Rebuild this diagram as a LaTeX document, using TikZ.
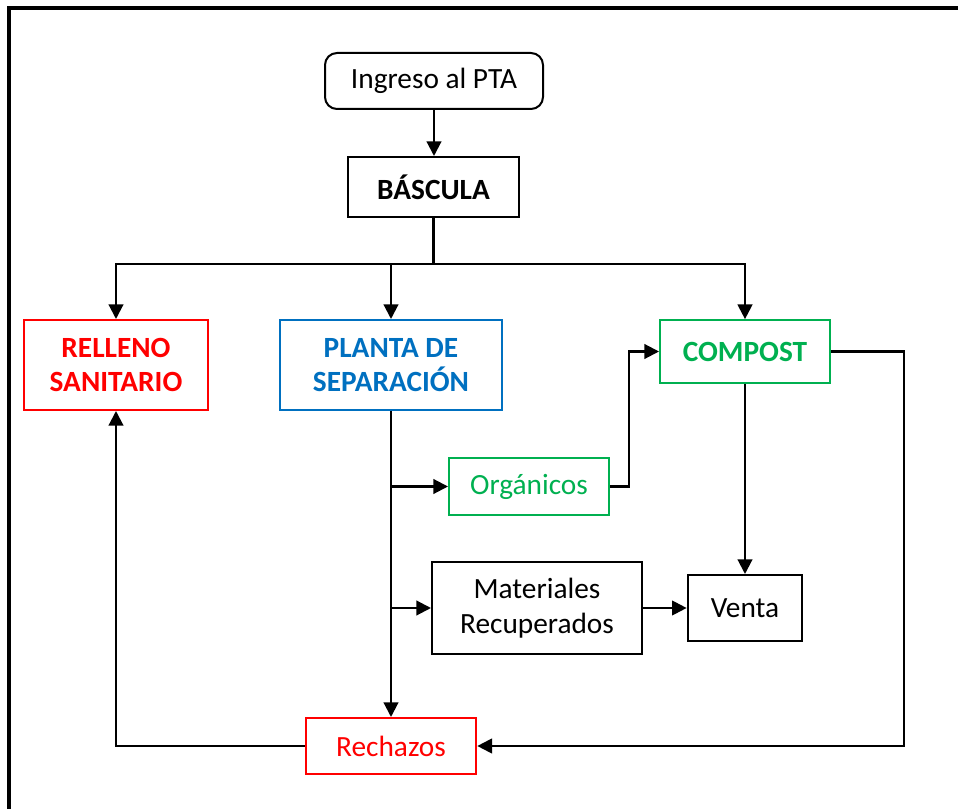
\documentclass[tikz,border=0pt]{standalone}
\usepackage{fontspec}
\setmainfont{Carlito}
\usetikzlibrary{arrows.meta}
\definecolor{rojo}{RGB}{255,0,0}
\definecolor{azul}{RGB}{0,112,192}
\definecolor{verde}{RGB}{0,176,80}
\begin{document}
\begin{tikzpicture}[x=0.75pt,y=-0.75pt,
    box/.style={draw,line width=1.5pt,align=center,inner sep=0pt,
      font=\fontsize{22}{26}\selectfont},
    arrow/.style={line width=1.6pt,-{Triangle[length=11pt,width=11pt]}}]
      \useasboundingbox (0,0) rectangle (958,809);
      \begin{scope}
        \clip (0,0) rectangle (958,809);
        \draw[line width=3pt] (9,900) -- (9,8.5) -- (1000,8.5);
      \end{scope}
      \node[box,rounded corners=9pt,minimum width=163.5pt,minimum height=42pt]
        (ingreso) at (434,81) {Ingreso al PTA};
      \node[box,minimum width=128pt,minimum height=45pt]
        (bascula) at (433.5,187) {\textbf{BÁSCULA}};
      \node[box,draw=rojo,text=rojo,minimum width=138pt,minimum height=67.5pt]
        (relleno) at (116,365) {\textbf{RELLENO}\\\textbf{SANITARIO}};
      \node[box,draw=azul,text=azul,minimum width=167pt,minimum height=67.5pt]
        (planta) at (391,365) {\textbf{PLANTA DE}\\\textbf{SEPARACIÓN}};
      \node[box,draw=verde,text=verde,minimum width=127.5pt,minimum height=47pt]
        (compost) at (745,351.5) {\textbf{COMPOST}};
      \node[box,draw=verde,text=verde,minimum width=120pt,minimum height=43pt]
        (organicos) at (529,486.5) {Orgánicos};
      \node[box,minimum width=157.5pt,minimum height=69pt]
        (materiales) at (537,608) {Materiales\\Recuperados};
      \node[box,minimum width=86pt,minimum height=49.5pt]
        (venta) at (745,608) {Venta};
      \node[box,draw=rojo,text=rojo,minimum width=128pt,minimum height=42pt]
        (rechazos) at (391,746) {Rechazos};
      \begin{scope}[arrow]
        \draw (ingreso) -- (ingreso |- bascula.north);
        \draw[-] (bascula.south) -- ++(0,46) coordinate (reparto);
        \draw (reparto) -| (relleno.north);
        \draw (reparto) -| (planta.north);
        \draw (reparto) -| (compost.north);
        \draw (planta.south) -- (rechazos.north);
        \draw (planta.south |- organicos.west) -- (organicos.west);
        \draw (planta.south |- materiales.west) -- (materiales.west);
        \draw (organicos.east) -- ++(19,0) |- (compost.west);
        \draw (compost.south) -- (venta.north);
        \draw (materiales.east) -- (venta.west);
        \draw (compost.east) -- ++(73,0) |- (rechazos.east);
        \draw (rechazos.west) -| (relleno.south);
      \end{scope}
    \end{tikzpicture}
\end{document}
